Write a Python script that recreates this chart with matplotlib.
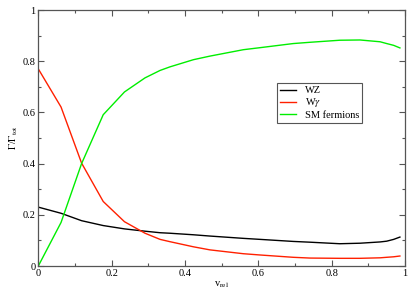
import matplotlib
matplotlib.use('Agg')
import matplotlib.pyplot as plt
from matplotlib.ticker import MultipleLocator

# values
v_rel = [0.0, 0.062, 0.118, 0.177, 0.235, 0.291, 0.332, 0.359, 0.423, 0.468,
         0.559, 0.605, 0.695, 0.741, 0.822, 0.877, 0.932, 0.95, 0.969, 0.986]
wz = [0.230, 0.206, 0.177, 0.158, 0.145, 0.136, 0.130, 0.128, 0.122, 0.117,
      0.108, 0.104, 0.096, 0.093, 0.087, 0.089, 0.094, 0.097, 0.104, 0.113]
wgamma = [0.770, 0.621, 0.402, 0.252, 0.173, 0.128, 0.104, 0.095, 0.075, 0.063,
          0.048, 0.043, 0.034, 0.031, 0.030, 0.030, 0.032, 0.034, 0.036, 0.039]
sm_fermions = [0.0, 0.170, 0.400, 0.591, 0.680, 0.735, 0.764, 0.778, 0.806, 0.820,
               0.845, 0.853, 0.869, 0.874, 0.882, 0.883, 0.876, 0.869, 0.862, 0.852]

plt.rcParams['font.family'] = ['Liberation Serif', 'DejaVu Serif']
plt.rcParams['mathtext.fontset'] = 'stix'

fig = plt.figure(figsize=(4.15, 2.95), dpi=100)
ax = fig.add_axes([0.0923, 0.0983, 0.8837, 0.8677])

ax.plot(v_rel, wz, color='black', lw=1.0, label='WZ')
ax.plot(v_rel, wgamma, color='#ff2000', lw=1.0, label='W$\\gamma$')
ax.plot(v_rel, sm_fermions, color='#00ee00', lw=1.0, label='SM fermions')

ax.set_xlim(0, 1)
ax.set_ylim(0, 1)
ax.xaxis.set_major_locator(MultipleLocator(0.2))
ax.xaxis.set_minor_locator(MultipleLocator(0.1))
ax.yaxis.set_major_locator(MultipleLocator(0.2))
ax.yaxis.set_minor_locator(MultipleLocator(0.1))
ax.xaxis.set_major_formatter(plt.FuncFormatter(lambda v, p: '%g' % round(v, 1)))
ax.yaxis.set_major_formatter(plt.FuncFormatter(lambda v, p: '%g' % round(v, 1)))
ax.tick_params(which='both', direction='in', top=True, right=True,
               labelsize=7.5, color='#555555', width=0.8, pad=2)
ax.tick_params(which='major', length=4)
ax.tick_params(which='minor', length=2)
for s in ax.spines.values():
    s.set_color('#555555')
    s.set_linewidth(0.9)

ax.set_xlabel('v$_{\\mathrm{rel}}$', fontsize=7.5, labelpad=1)
ax.set_ylabel('$\\Gamma$/$\\Gamma_{\\mathrm{tot}}$', fontsize=7.5, labelpad=2)

leg = ax.legend(loc='upper left', bbox_to_anchor=(0.65, 0.715), fontsize=7.5,
                fancybox=False, framealpha=1, edgecolor='#555555',
                handlelength=1.6, handletextpad=0.8, borderpad=0.3,
                labelspacing=0.1, borderaxespad=0)
leg.get_frame().set_linewidth(0.8)

plt.savefig('out.png', dpi=100)
